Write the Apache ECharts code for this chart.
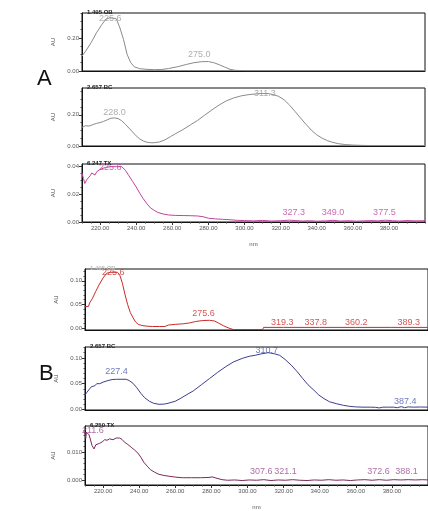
<!DOCTYPE html>
<html><head><meta charset="utf-8">
<script src="https://cdn.jsdelivr.net/npm/echarts@6/dist/echarts.min.js"></script>
<style>html,body{margin:0;padding:0;background:#fff}#c{width:428px;height:511px}</style>
</head><body><div id="c"></div>
<script>
// ---------- data ----------
const xTickLabels = [220, 240, 260, 280, 300, 320, 340, 360, 380];

const obA = [[210,0.09],[212,0.12],[215,0.17],[218,0.23],[221,0.28],[223,0.31],[225,0.32],[227,0.32],[229,0.315],[231,0.26],[233,0.19],[235,0.10],[237,0.05],[239,0.025],[242,0.014],[246,0.010],[250,0.008],[254,0.009],[258,0.015],[263,0.026],[268,0.040],[272,0.050],[276,0.056],[280,0.057],[283,0.050],[286,0.038],[289,0.024],[292,0.010],[295,0.004],[300,0.002],[320,0.002],[340,0.002],[360,0.002],[380,0.002],[400,0.002]];
const bcA = [[210,0.12],[212,0.13],[214,0.128],[216,0.137],[218,0.145],[220,0.15],[222,0.158],[224,0.168],[226,0.178],[228,0.18],[230,0.176],[232,0.162],[234,0.14],[236,0.115],[238,0.09],[240,0.065],[242,0.045],[244,0.032],[246,0.024],[248,0.021],[250,0.021],[253,0.026],[256,0.04],[259,0.06],[262,0.08],[266,0.106],[270,0.135],[274,0.164],[278,0.198],[282,0.232],[286,0.263],[290,0.29],[294,0.308],[298,0.321],[302,0.329],[306,0.334],[310,0.337],[313,0.336],[316,0.33],[319,0.318],[322,0.296],[325,0.262],[328,0.222],[331,0.18],[334,0.14],[337,0.102],[340,0.072],[343,0.05],[346,0.034],[349,0.023],[352,0.015],[356,0.009],[360,0.006],[365,0.004],[370,0.003],[380,0.003],[390,0.003],[400,0.003]];
const txA = [[210,0.035],[210.8,0.031],[211.6,0.0275],[212.5,0.030],[213.5,0.031],[214.5,0.033],[215.4,0.035],[216.3,0.034],[217.2,0.0335],[218.2,0.036],[219,0.037],[220,0.0375],[221,0.0385],[223,0.039],[226,0.0395],[229,0.0395],[232,0.0395],[234,0.037],[236,0.033],[238,0.029],[240,0.025],[242,0.0205],[244,0.0165],[246,0.013],[248,0.010],[250,0.0083],[252,0.0068],[255,0.0057],[258,0.005],[262,0.0047],[266,0.0046],[270,0.0045],[274,0.0043],[277,0.0038],[280,0.0027],[284,0.0022],[288,0.0019],[292,0.0016],[296,0.0012],[300,0.0010],[305,0.0008],[310,0.0011],[315,0.0007],[320,0.0009],[325,0.0013],[328,0.0010],[332,0.0007],[336,0.0009],[340,0.0006],[345,0.0008],[349,0.0012],[353,0.0007],[358,0.0009],[362,0.0006],[366,0.0008],[370,0.0010],[374,0.0008],[378,0.0013],[382,0.0009],[386,0.0007],[390,0.0010],[395,0.0008],[400,0.0009]];

const obB = [[210,0.045],[211,0.046],[212,0.046],[212.5,0.053],[214,0.062],[216,0.078],[218,0.093],[220,0.106],[222,0.116],[224,0.118],[226,0.118],[228,0.118],[229.2,0.113],[230.7,0.095],[232.1,0.072],[233.6,0.050],[235.1,0.033],[236.6,0.022],[238,0.013],[239.5,0.008],[241.5,0.0055],[244.4,0.004],[247.4,0.0034],[251.3,0.0034],[254.3,0.0035],[256.2,0.0065],[260.2,0.008],[264.1,0.009],[268,0.011],[271.3,0.014],[275.2,0.016],[278.9,0.0165],[281.8,0.015],[283.8,0.011],[286.7,0.005],[289.7,0.0],[292.1,-0.003],[300,-0.003],[308.4,-0.003],[308.9,0.0015],[320,0.0015],[340,0.0015],[360,0.0015],[380,0.0015],[400,0.0015]];
const bcB = [[210,0.028],[211,0.033],[212,0.036],[212.6,0.040],[213.5,0.044],[214.5,0.047],[215.5,0.046],[216.5,0.050],[217.3,0.052],[218.2,0.050],[219,0.051],[220,0.053],[221,0.054],[222.7,0.056],[225,0.058],[227.5,0.0585],[230,0.0585],[232.8,0.0585],[234.5,0.056],[236.5,0.051],[238.5,0.043],[241,0.031],[243,0.023],[245.6,0.016],[248,0.012],[251,0.010],[254,0.0105],[256,0.012],[260,0.016],[262.7,0.021],[266.5,0.029],[270,0.036],[274.5,0.048],[279,0.060],[283.5,0.072],[288,0.083],[292.2,0.092],[297.1,0.099],[301,0.103],[304.3,0.105],[308,0.108],[311.6,0.110],[314.8,0.108],[317.8,0.105],[320.8,0.097],[324.2,0.086],[327.6,0.073],[330.6,0.060],[333.5,0.048],[336.9,0.037],[339.5,0.028],[342.4,0.021],[345.4,0.015],[349.5,0.011],[353.2,0.008],[356.7,0.006],[360,0.005],[364,0.0045],[368,0.0045],[371,0.0042],[373,0.003],[375,0.0045],[378,0.0045],[381,0.0045],[383,0.0035],[385.2,0.0055],[387,0.0035],[389,0.005],[392,0.0045],[396,0.0048],[400,0.0045]];
const txB = [[210,0.0172],[210.4,0.0150],[210.8,0.0172],[211.3,0.0178],[211.7,0.0170],[212.3,0.0162],[213.1,0.0160],[213.9,0.0124],[215,0.0112],[216,0.0127],[217,0.0130],[218.1,0.0132],[219.5,0.0137],[220.9,0.0145],[222.2,0.0143],[223.6,0.0148],[225.5,0.0145],[227.3,0.0151],[229.2,0.0151],[230.5,0.0146],[231.9,0.0136],[233.7,0.0128],[235.6,0.0118],[237.5,0.0108],[239.3,0.0097],[241,0.0082],[242.5,0.0065],[244.5,0.0050],[246.2,0.0038],[248.5,0.0029],[250.6,0.0022],[253.8,0.0017],[257,0.0014],[260.3,0.0011],[264.1,0.0009],[269,0.0009],[274,0.0009],[278.7,0.0010],[280.5,0.0012],[282.5,0.0008],[285.9,0.0002],[289,0.0000],[293,0.0001],[297,-0.0001],[301,0.0001],[305,0.0000],[309,0.0002],[313,-0.0001],[317,0.0001],[321,0.0000],[325,0.0002],[329,0.0000],[333,-0.0001],[337,0.0001],[341,0.0000],[345,0.0002],[349,0.0000],[353,0.0001],[357,-0.0001],[361,0.0001],[365,0.0002],[369,0.0000],[373,0.0002],[377,0.0000],[381,0.0002],[385,0.0001],[389,0.0002],[393,0.0001],[397,0.0002],[400,0.0001]];

// peak labels: [wavelength, absorbance where the label sits]
const obAPeaks = [[225.6,0.285],[275.0,0.068]];
const bcAPeaks = [[228.0,0.18],[311.3,0.303]];
const txAPeaks = [[225.6,0.035],[327.3,0.0029],[349.0,0.0029],[377.5,0.0029]];
const obBPeaks = [[225.6,0.107],[275.6,0.021],[319.3,0.0017],[337.8,0.0017],[360.2,0.0017],[389.3,0.0017]];
const bcBPeaks = [[227.4,0.063],[310.7,0.104],[387.4,0.0065]];
const txBPeaks = [[211.6,0.0159],[307.6,0.0014],[321.1,0.0014],[372.6,0.0014],[388.1,0.0014]];

const titles = ['1.495 OB','2.657 BC','6.247 TX','1.495 OB','2.657 BC','6.250 TX'];

// ---------- layout / style ----------
const panels = [
  {title:titles[0], data:obA, peaks:obAPeaks, color:'#8a8a8a', lab:'#9a9a9a', left:82, right:3, top:13, height:58, min:0, max:0.35, major:[0,0.2], minorStep:0.05, dig:2, showX:false, tcol:'#222'},
  {title:titles[1], data:bcA, peaks:bcAPeaks, color:'#8a8a8a', lab:'#9a9a9a', left:82, right:3, top:88, height:58, min:0, max:0.372, major:[0,0.2], minorStep:0.05, dig:2, showX:false, tcol:'#222'},
  {title:titles[2], data:txA, peaks:txAPeaks, color:'#c2429e', lab:'#c2429e', left:82, right:3, top:164, height:58, min:0, max:0.0414, major:[0,0.02,0.04], minorStep:0.005, dig:2, showX:true, tcol:'#222'},
  {title:titles[3], data:obB, peaks:obBPeaks, color:'#cc2a2a', lab:'#cc2a2a', left:85, right:-7, top:269, height:61, min:-0.004, max:0.125, major:[0,0.05,0.1], minorStep:0.01, dig:2, showX:false, tcol:'#bbb'},
  {title:titles[4], data:bcB, peaks:bcBPeaks, color:'#3d3d8f', lab:'#4a5aa8', left:85, right:-7, top:347, height:63, min:-0.001, max:0.121, major:[0,0.05,0.1], minorStep:0.01, dig:2, showX:false, tcol:'#222'},
  {title:titles[5], data:txB, peaks:txBPeaks, color:'#7a2a5c', lab:'#9a4a8e', left:85, right:-7, top:426, height:64, min:-0.0017, max:0.0194, major:[0,0.01], minorStep:0.002, dig:3, showX:true, tcol:'#222'}
];

const FONT = 'Liberation Sans, Arial, sans-serif';
function minorVals(min, max, step, major){
  const out = [];
  const s = Math.ceil(min/step - 1e-9);
  for (let k = s; k*step <= max + 1e-12; k++) {
    const v = +(k*step).toFixed(6);
    if (!major.some(m => Math.abs(m - v) < 1e-9)) out.push(v);
  }
  return out;
}
const xMinor = minorVals(210, 400, 5, xTickLabels);

const grid = [], xAxis = [], yAxis = [], series = [], title = [];
title.push({text:'A', left:32, top:63, textStyle:{fontSize:22, fontWeight:'normal', color:'#111', fontFamily:FONT}});
title.push({text:'B', left:34, top:358, textStyle:{fontSize:22, fontWeight:'normal', color:'#111', fontFamily:FONT}});

panels.forEach((p, i) => {
  grid.push({left:p.left, right:p.right, top:p.top, height:p.height, show:true, borderColor:'#111', borderWidth:1, backgroundColor:'transparent'});
  title.push({text:p.title, left:p.left, top:p.top - 9, textStyle:{fontSize:6, fontWeight:'bold', color:p.tcol, fontFamily:FONT}});
  xAxis.push({
    type:'value', gridIndex:i, min:210, max:400, position:'bottom',
    axisLine:{show:true, onZero:false, lineStyle:{color:'#111', width:1}},
    axisTick:{show:p.showX, customValues:xTickLabels, length:3, lineStyle:{color:'#333'}},
    axisLabel:{show:p.showX, customValues:xTickLabels, formatter:v=>v.toFixed(2), fontSize:6, color:'#555', margin:3, fontFamily:FONT},
    splitLine:{show:false},
    name:p.showX ? 'nm' : '', nameLocation:'middle', nameGap:19,
    nameTextStyle:{fontSize:6, color:'#555', fontFamily:FONT}
  });
  xAxis.push({
    type:'value', gridIndex:i, min:210, max:400, position:'bottom', offset:0,
    axisLine:{show:false, onZero:false},
    axisTick:{show:p.showX, customValues:xMinor, length:1.5, lineStyle:{color:'#444'}},
    axisLabel:{show:false}, splitLine:{show:false}
  });
  yAxis.push({
    type:'value', gridIndex:i, min:p.min, max:p.max, position:'left',
    axisLine:{show:true, onZero:false, lineStyle:{color:'#111', width:1}},
    axisTick:{show:true, customValues:p.major, length:3, lineStyle:{color:'#333'}},
    axisLabel:{customValues:p.major, formatter:v=>v.toFixed(p.dig), fontSize:6, color:'#555', margin:3, fontFamily:FONT},
    splitLine:{show:false},
    name:'AU', nameLocation:'middle', nameGap:20, nameRotate:90,
    nameTextStyle:{fontSize:6, color:'#444', fontFamily:FONT}
  });
  yAxis.push({
    type:'value', gridIndex:i, min:p.min, max:p.max, position:'left', offset:0,
    axisLine:{show:false, onZero:false},
    axisTick:{show:true, customValues:minorVals(p.min, p.max, p.minorStep, p.major), length:1.5, lineStyle:{color:'#444'}},
    axisLabel:{show:false}, splitLine:{show:false}
  });
  series.push({
    type:'line', xAxisIndex:2*i, yAxisIndex:2*i, data:p.data,
    showSymbol:false, symbol:'none', smooth:false,
    lineStyle:{color:p.color, width:1}, clip:true, animation:false
  });
  series.push({
    type:'scatter', xAxisIndex:2*i, yAxisIndex:2*i,
    symbolSize:1, itemStyle:{color:'rgba(0,0,0,0)'},
    data:p.peaks.map((d, j) => {
      const item = {value:d};
      if (i === 5 && j === 0) item.label = {align:'left', offset:[-6, 0]};
      return item;
    }),
    label:{show:true, position:'top', distance:0, formatter:q=>q.value[0].toFixed(1),
      fontSize:9, color:p.lab, fontFamily:FONT},
    silent:true, animation:false
  });
});

const chart = echarts.init(document.getElementById('c'), null, {renderer:'canvas'});
chart.setOption({animation:false, backgroundColor:'#fff', title, grid, xAxis, yAxis, series});
</script>
</body></html>
